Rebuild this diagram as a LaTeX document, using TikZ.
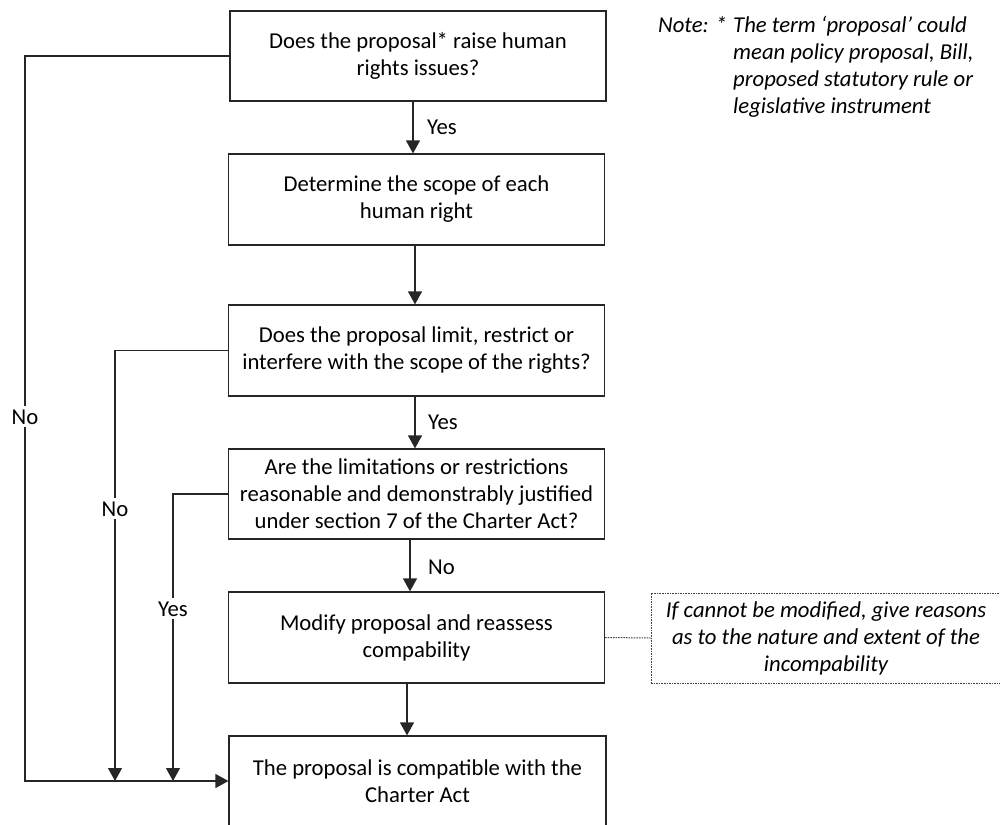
\documentclass[tikz,border=0pt]{standalone}
\usepackage{fontspec}
\setmainfont{Carlito}
\usetikzlibrary{arrows.meta}
\begin{document}
\begin{tikzpicture}[x=1pt,y=-1pt,
  txt/.style={font=\fontsize{22.7}{27}\selectfont},
  box/.style={txt, draw=black!85, line width=1.2pt, minimum width=376pt,
    minimum height=90pt, align=center, inner sep=0pt},
  dotbox/.style={font=\fontsize{22.7}{27}\selectfont\itshape, draw=black!75,
    line width=1pt, dash pattern=on 1.6pt off 1pt, minimum width=350pt,
    minimum height=90pt, align=center, inner sep=0pt},
  conn/.style={draw=black!85, line width=1.2pt},
  arr/.style={conn, -{Triangle[width=14pt,length=13pt]}},
  dotline/.style={draw=black!75, line width=1pt, dash pattern=on 1.6pt off 1pt},
  lbl/.style={txt, inner sep=0pt},
  onlbl/.style={txt, fill=white, inner xsep=1pt, inner ysep=3pt, anchor=base},
  notestyle/.style={font=\fontsize{22.7}{27}\selectfont\itshape, inner sep=0pt, anchor=base west}
]
\useasboundingbox (0,0) rectangle (1000,824);
\clip (0,0) rectangle (1000,824);

\node[box] (b1) at (418,56) {Does the proposal* raise human\\rights issues?};
\node[box, minimum height=91pt] (b2) at (416.5,199.5) {Determine the scope of each\\human right};
\node[box, minimum height=91pt] (b3) at (416.5,350.5) {Does the proposal limit, restrict or\\interfere with the scope of the rights?};
\node[box] (b4) at (416.5,494) {Are the limitations or restrictions\\reasonable and demonstrably justified\\under section 7 of the Charter Act?};
\node[box, minimum height=91pt] (b5) at (416.5,637.5) {Modify proposal and reassess\\compability};
\node[box, minimum width=377pt] (b6) at (417.5,781) {The proposal is compatible with the\\Charter Act};

\node[dotbox] (d) at (826,638) {If cannot be modified, give reasons\\as to the nature and extent of the\\incompability};

\coordinate (j1) at (25,781);
\coordinate (j3) at (115,781);
\coordinate (j4) at (173,781);

% main vertical arrows
\draw[arr] ([xshift=-5pt]b1.south) -- ([xshift=-5pt]b1.south |- b2.north);
\draw[arr] ([xshift=-1.5pt]b2.south) -- ([xshift=-1.5pt]b2.south |- b3.north);
\draw[arr] ([xshift=-1.5pt]b3.south) -- ([xshift=-1.5pt]b3.south |- b4.north);
\draw[arr] ([xshift=-6.5pt]b4.south) -- ([xshift=-6.5pt]b4.south |- b5.north);
\draw[arr] ([xshift=-9.5pt]b5.south) -- ([xshift=-9.5pt]b5.south |- b6.north);

% side connectors
\draw[arr] (b1.west) -| (j1) -- (b6.west);
\draw[arr] (b3.west) -| (j3);
\draw[arr] (b4.west) -| (j4);

\draw[dotline] (b5.east) -- (d.west);

% labels
\node[lbl, anchor=base west] (l1) at (427,135) {Yes};
\node[lbl, anchor=base west] (l3) at (428,429) {Yes};
\node[lbl, anchor=base west] (l4) at (428,574) {No};
\node[onlbl] (n1) at (25,424) {No};
\node[onlbl] (n3) at (115,516) {No};
\node[onlbl] (n4) at (173,616) {Yes};

% note
\node[notestyle] (note) at (658,33) {Note: *};
\node[notestyle] (notetext) at (733,33)
  {\begin{tabular}[t]{@{}l@{}}The term ‘proposal’ could\\mean policy proposal, Bill,\\proposed statutory rule or\\legislative instrument\end{tabular}};
\end{tikzpicture}
\end{document}
